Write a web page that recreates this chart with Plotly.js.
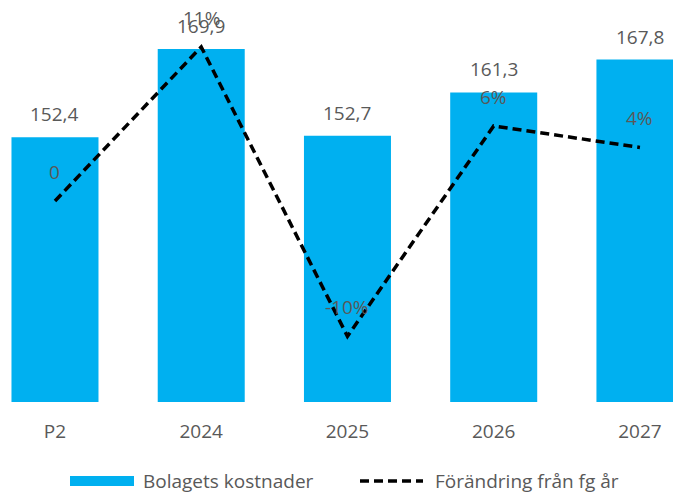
<!DOCTYPE html>
<html>
<head>
<meta charset="utf-8">
<script src="https://cdn.plot.ly/plotly-3.0.1.min.js"></script>
<style>html,body{margin:0;padding:0;background:#fff;}#chart{width:673px;height:494px;}</style>
</head>
<body>
<div id="chart"></div>
<script>
const categories = ["P2", "2024", "2025", "2026", "2027"];
const costs = [152.4, 169.9, 152.7, 161.3, 167.8];
const costLabels = ["152,4", "169,9", "152,7", "161,3", "167,8"];
const change = [0, 0.115, -0.101, 0.056, 0.040];
const changeLabels = ["0", "11%", "-10%", "6%", "4%"];
const seriesNames = ["Bolagets kostnader", "Förändring från fg år"];

const FONT = "Open Sans, Noto Sans, sans-serif";
const FS = 19;
const GRAY = "#595959";
const BLUE = "#00B0F0";
const W = 673, H = 494, B = 92;
const PH = H - B;
const px = v => v / W;            // pixel x -> paper x
const py = v => (PH - v) / PH;    // pixel y -> paper y

const lineStyle = { color: "#000000", width: 3.5, dash: "9px,5px" };

const traces = [
  {
    type: "bar",
    name: seriesNames[0],
    x: categories,
    y: costs,
    marker: { color: BLUE },
    hoverinfo: "skip",
    showlegend: false
  },
  {
    type: "scatter",
    mode: "lines",
    name: seriesNames[1],
    x: categories,
    y: change,
    yaxis: "y2",
    line: lineStyle,
    hoverinfo: "skip",
    showlegend: false
  }
];

const annotations = [];
categories.forEach((c, i) => {
  annotations.push({
    x: i, y: costs[i], xref: "x", yref: "y",
    text: costLabels[i], showarrow: false,
    yanchor: "middle", yshift: 23,
    font: { family: FONT, size: FS, color: GRAY }
  });
  annotations.push({
    x: i, y: change[i], xref: "x", yref: "y2",
    text: changeLabels[i], showarrow: false,
    yanchor: "middle", yshift: 29,
    font: { family: FONT, size: FS, color: GRAY }
  });
});

// legend (drawn manually to match the wide swatches)
annotations.push({
  x: px(141), y: py(481), xref: "paper", yref: "paper",
  xanchor: "left", yanchor: "middle", showarrow: false,
  text: seriesNames[0], font: { family: FONT, size: FS, color: GRAY }
});
annotations.push({
  x: px(433), y: py(481), xref: "paper", yref: "paper",
  xanchor: "left", yanchor: "middle", showarrow: false,
  text: seriesNames[1], font: { family: FONT, size: FS, color: GRAY }
});
const shapes = [
  {
    type: "rect", xref: "paper", yref: "paper",
    x0: px(70), x1: px(134), y0: py(486), y1: py(476),
    fillcolor: BLUE, line: { width: 0 }
  },
  {
    type: "line", xref: "paper", yref: "paper",
    x0: px(360), x1: px(423), y0: py(481), y1: py(481),
    line: lineStyle
  }
];

const layout = {
  width: W, height: H,
  margin: { l: 0, r: 0, t: 0, b: B, pad: 0 },
  paper_bgcolor: "#ffffff", plot_bgcolor: "#ffffff",
  font: { family: FONT, size: FS, color: GRAY },
  bargap: 0.405,
  xaxis: {
    type: "category",
    range: [-0.376, 4.226],
    showgrid: false, zeroline: false, showline: false,
    ticks: "", ticklabelstandoff: 16,
    tickfont: { family: FONT, size: FS, color: GRAY },
    fixedrange: true
  },
  yaxis: {
    range: [100, 179.6], visible: false, fixedrange: true
  },
  yaxis2: {
    range: [-0.15, 0.15], overlaying: "y", side: "right",
    visible: false, fixedrange: true
  },
  showlegend: false,
  annotations: annotations,
  shapes: shapes
};

Plotly.newPlot("chart", traces, layout, { displayModeBar: false, staticPlot: true });
</script>
</body>
</html>
